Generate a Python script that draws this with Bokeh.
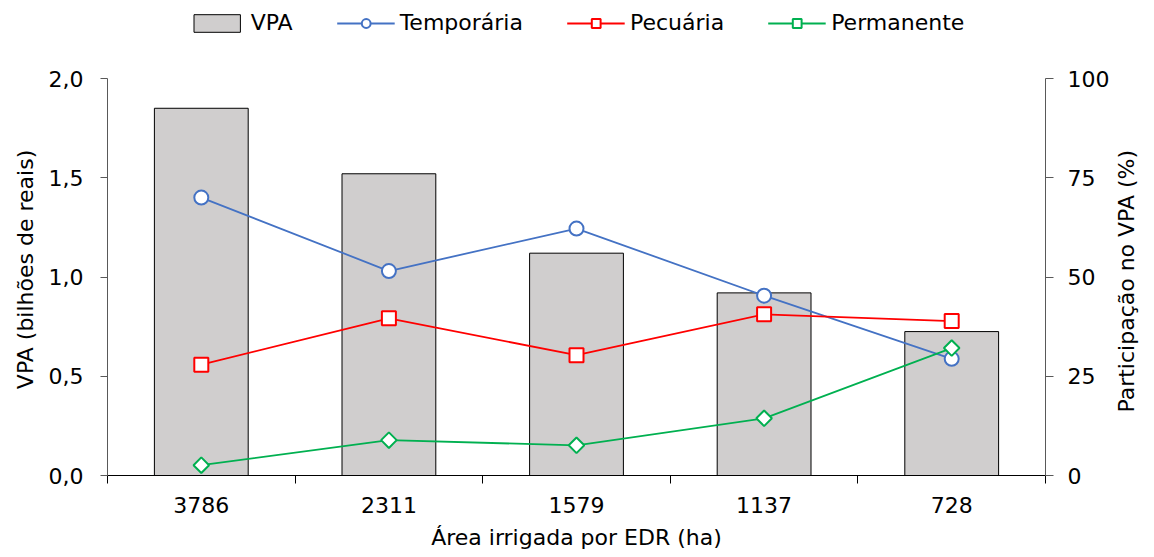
import numpy as np
from bokeh.plotting import figure
from bokeh.models import (ColumnDataSource, FactorRange, Range1d, LinearAxis, CategoricalAxis,
                          FixedTicker, CustomJSTickFormatter, Legend, LegendItem)
from bokeh.embed import file_html
from bokeh.resources import INLINE

# ---- data ----
categories = ["3786", "2311", "1579", "1137", "728"]
vpa = [1.85, 1.52, 1.12, 0.92, 0.725]
temporaria = [70.0, 51.5, 62.2, 45.3, 29.4]
pecuaria = [27.9, 39.6, 30.3, 40.6, 38.9]
permanente = [2.6, 8.9, 7.6, 14.4, 32.1]
left_ticks = [0, 0.5, 1.0, 1.5, 2.0]
right_ticks = [0, 25, 50, 75, 100]

FONT = "DejaVu Sans"
FS = "22px"
NB = "\u00a0"

# layout: the frame spans the whole top area so the legend (inside the frame) is visible;
# the axes are bounded to their data extent
FRAME_H = 475.0      # frame height in px
AXIS_TOP = 78.0      # px from the top where the axes end
scale_k = FRAME_H / (FRAME_H - AXIS_TOP)

src = ColumnDataSource(dict(cat=categories, vpa=vpa, temp=temporaria,
                            pec=pecuaria, perm=permanente))

p = figure(width=1154, height=557,
           x_range=FactorRange(factors=categories, range_padding=0),
           y_range=Range1d(0, left_ticks[-1] * scale_k),
           output_backend="svg", toolbar_location=None,
           x_axis_location=None, y_axis_location=None,
           min_border_left=107, min_border_right=108,
           min_border_top=0, min_border_bottom=82)
p.extra_y_ranges = {"pct": Range1d(0, right_ticks[-1] * scale_k)}
p.outline_line_color = None
p.grid.grid_line_color = None
p.background_fill_color = "white"
p.border_fill_color = "white"

# x axis: boundary ticks between categories (synthetic coordinates 0..n)
bx = LinearAxis(ticker=FixedTicker(ticks=list(range(len(categories) + 1))),
                formatter=CustomJSTickFormatter(code="return '';"),
                major_tick_in=0, major_tick_out=8, minor_tick_line_color=None,
                major_label_text_font_size="0px", major_label_standoff=0,
                axis_line_color="black", major_tick_line_color="black")
p.add_layout(bx, "below")

cx = CategoricalAxis(axis_line_color=None, major_tick_line_color=None,
                     major_tick_in=0, major_tick_out=0, major_label_standoff=13,
                     axis_label="Área irrigada por EDR (ha)", axis_label_standoff=9,
                     axis_label_text_font=FONT, axis_label_text_font_size=FS,
                     axis_label_text_font_style="normal", axis_label_text_color="black",
                     major_label_text_font=FONT, major_label_text_font_size=FS,
                     major_label_text_color="black")
p.add_layout(cx, "below")

ly = LinearAxis(ticker=FixedTicker(ticks=left_ticks), bounds=(left_ticks[0], left_ticks[-1]),
                formatter=CustomJSTickFormatter(code="return tick.toFixed(1).replace('.', ',');"),
                major_tick_in=0, major_tick_out=7, minor_tick_line_color=None,
                major_label_standoff=17,
                axis_line_color="#595959", major_tick_line_color="#595959",
                axis_label="VPA (bilhões de reais)" + NB * 9, axis_label_standoff=8,
                axis_label_text_font=FONT, axis_label_text_font_size=FS,
                axis_label_text_font_style="normal", axis_label_text_color="black",
                major_label_text_font=FONT, major_label_text_font_size=FS,
                major_label_text_color="black")
p.add_layout(ly, "left")

ry = LinearAxis(y_range_name="pct", ticker=FixedTicker(ticks=right_ticks),
                bounds=(right_ticks[0], right_ticks[-1]),
                major_tick_in=0, major_tick_out=8, minor_tick_line_color=None,
                major_label_standoff=14,
                axis_line_color="#595959", major_tick_line_color="#595959",
                axis_label=NB * 9 + "Participação no VPA (%)", axis_label_standoff=14,
                axis_label_orientation=np.pi / 2, axis_label_align="start",
                axis_label_text_font=FONT, axis_label_text_font_size=FS,
                axis_label_text_font_style="normal", axis_label_text_color="black",
                major_label_text_font=FONT, major_label_text_font_size=FS,
                major_label_text_color="black")
p.add_layout(ry, "right")

# glyphs
bars = p.vbar(x="cat", top="vpa", width=0.5, source=src,
              fill_color="#D0CECE", line_color="black", line_width=1)

lt = p.line(x="cat", y="temp", source=src, y_range_name="pct",
            line_color="#4472C4", line_width=1.8)
st = p.scatter(x="cat", y="temp", source=src, y_range_name="pct", marker="circle",
               size=14, fill_color="white", line_color="#4472C4", line_width=2)

lp = p.line(x="cat", y="pec", source=src, y_range_name="pct",
            line_color="#FF0000", line_width=1.8)
sp = p.scatter(x="cat", y="pec", source=src, y_range_name="pct", marker="square",
               size=14, fill_color="white", line_color="#FF0000", line_width=2)

lm = p.line(x="cat", y="perm", source=src, y_range_name="pct",
            line_color="#00B050", line_width=1.8)
sm = p.scatter(x="cat", y="perm", source=src, y_range_name="pct", marker="square",
               angle=np.pi / 4, size=11, fill_color="white", line_color="#00B050",
               line_width=2)

legend = Legend(items=[LegendItem(label="VPA", renderers=[bars]),
                       LegendItem(label="Temporária", renderers=[lt, st]),
                       LegendItem(label="Pecuária", renderers=[lp, sp]),
                       LegendItem(label="Permanente", renderers=[lm, sm])],
                orientation="horizontal", location="top_center",
                glyph_width=58, glyph_height=22, label_standoff=5, spacing=44,
                padding=4, margin=10, border_line_color=None,
                background_fill_alpha=0,
                label_text_font=FONT, label_text_font_size=FS,
                label_text_color="black")
p.add_layout(legend)

open("out.html", "w").write(file_html(p, INLINE))
